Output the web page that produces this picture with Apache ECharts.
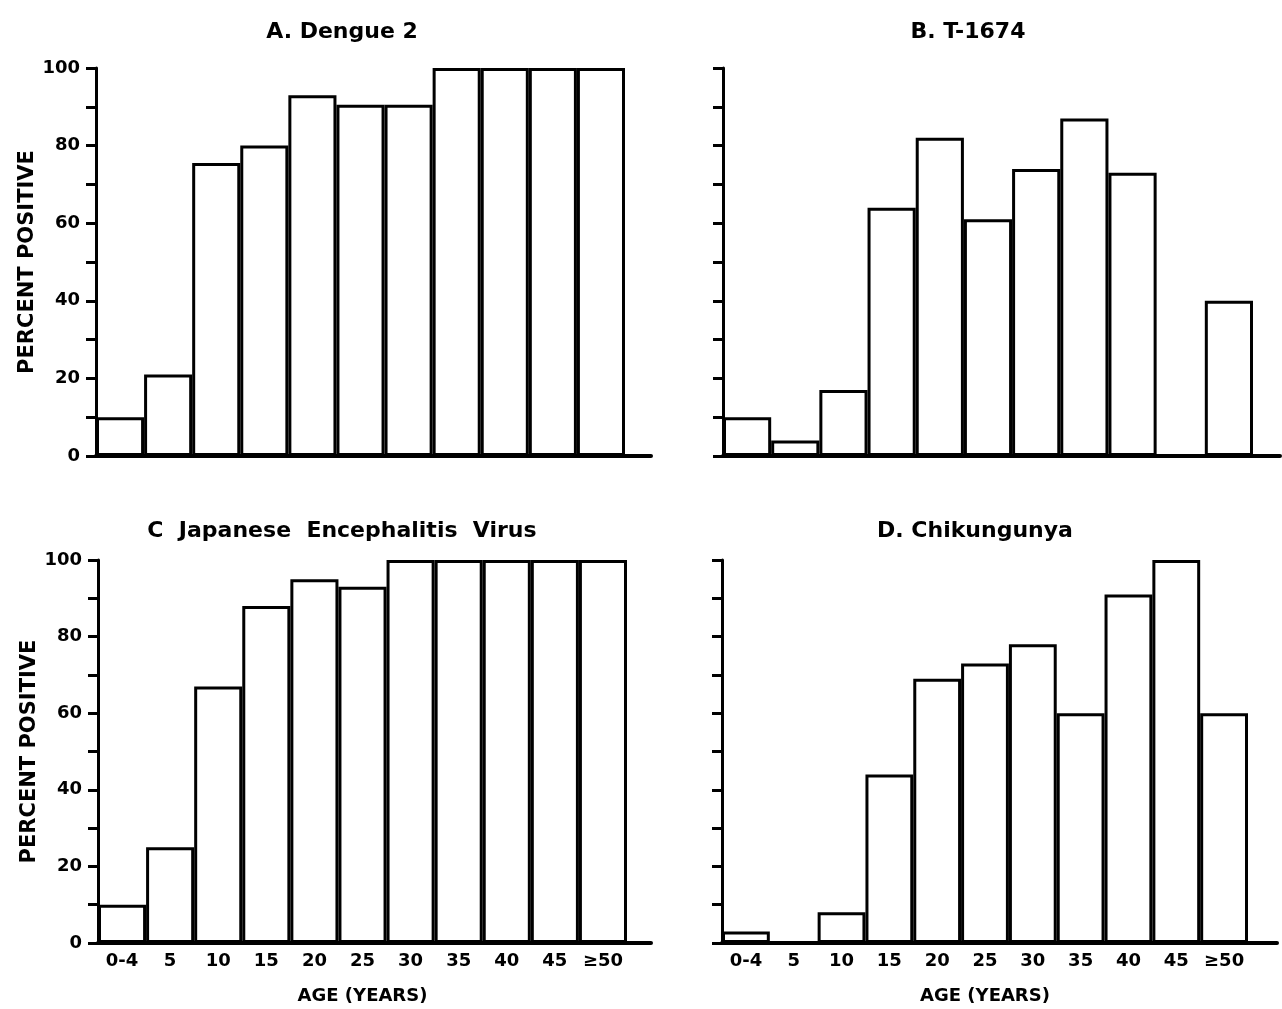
<!DOCTYPE html>
<html>
<head>
<meta charset="utf-8">
<script src="https://cdn.jsdelivr.net/npm/echarts@6/dist/echarts.min.js"></script>
<style>
html,body{margin:0;padding:0;background:#fff;}
#chart{width:1282px;height:1009px;}
</style>
</head>
<body>
<div id="chart"></div>
<script>
// ---- data ----
const ageCategories = ['0-4', '5', '10', '15', '20', '25', '30', '35', '40', '45', '≥50'];
const dengue2 = [10, 21, 75.5, 80, 93, 90.5, 90.5, 100, 100, 100, 100];
const t1674 = [10, 4, 17, 64, 82, 61, 74, 87, 73, 0, 40];
const jev = [10, 25, 67, 88, 95, 93, 100, 100, 100, 100, 100];
const chikungunya = [3, 0, 8, 44, 69, 73, 78, 60, 91, 100, 60];
const panelTitles = ['A. Dengue 2', 'B. T-1674', 'C  Japanese  Encephalitis  Virus', 'D. Chikungunya'];
const yTicks = [0, 20, 40, 60, 80, 100];
const yAxisName = 'PERCENT POSITIVE';
const xAxisName = 'AGE (YEARS)';

const FONT = '"DejaVu Sans", sans-serif';
const panels = [
  {data: dengue2, title: panelTitles[0], left: 96, top: 68, width: 529, height: 388, lineWidth: 555, yLabels: true, xLabels: false, tx: 337, ty: 16},
  {data: t1674, title: panelTitles[1], left: 723, top: 68, width: 530, height: 388, lineWidth: 557, yLabels: false, xLabels: false, tx: 963, ty: 16},
  {data: jev, title: panelTitles[2], left: 98, top: 560, width: 529, height: 383, lineWidth: 553, yLabels: true, xLabels: true, tx: 337, ty: 515},
  {data: chikungunya, title: panelTitles[3], left: 722, top: 560, width: 526, height: 383, lineWidth: 555, yLabels: false, xLabels: true, tx: 970, ty: 515}
];

const grid = [], xAxis = [], yAxis = [], series = [], title = [];
panels.forEach((p, i) => {
  const gi = grid.length;
  grid.push({left: p.left, top: p.top, width: p.width, height: p.height, containLabel: false, outerBoundsMode: 'none'});
  xAxis.push({
    type: 'category', gridIndex: gi, data: ageCategories,
    axisLine: {show: false}, axisTick: {show: false},
    axisLabel: {show: p.xLabels, color: '#000', fontFamily: FONT, fontWeight: 'bold', fontSize: 18, margin: 9, interval: 0},
    name: p.xLabels ? xAxisName : '', nameLocation: 'middle', nameGap: 44,
    nameTextStyle: {color: '#000', fontFamily: FONT, fontWeight: 'bold', fontSize: 18}
  });
  yAxis.push({
    type: 'value', gridIndex: gi, min: 0, max: 100, interval: 10,
    axisLine: {show: true, lineStyle: {color: '#000', width: 3}},
    axisTick: {show: true, length: 10, inside: false, lineStyle: {color: '#000', width: 3}},
    splitLine: {show: false},
    axisLabel: {show: p.yLabels, color: '#000', fontFamily: FONT, fontWeight: 'bold', fontSize: 18, margin: 16,
      formatter: v => yTicks.indexOf(v) >= 0 ? String(v) : ''},
    name: p.yLabels ? yAxisName : '', nameLocation: 'middle', nameGap: 58, nameRotate: 90,
    nameTextStyle: {color: '#000', fontFamily: FONT, fontWeight: 'bold', fontSize: 21}
  });
  series.push({
    type: 'bar', xAxisIndex: gi, yAxisIndex: gi, data: p.data,
    barCategoryGap: '0%', barGap: '0%',
    itemStyle: {color: '#fff', borderColor: '#000', borderWidth: 3},
    silent: true, animation: false
  });
  // extended baseline
  const gl = grid.length;
  grid.push({left: p.left, top: p.top, width: p.lineWidth, height: p.height, containLabel: false, outerBoundsMode: 'none'});
  xAxis.push({type: 'value', gridIndex: gl, min: 0, max: 1, axisLine: {show: true, onZero: false, lineStyle: {color: '#000', width: 4}},
    axisTick: {show: false}, axisLabel: {show: false}, splitLine: {show: false}});
  yAxis.push({type: 'value', gridIndex: gl, min: 0, max: 1, show: false});
  title.push({text: p.title, left: p.tx, top: p.ty, textAlign: 'center',
    textStyle: {color: '#000', fontFamily: FONT, fontWeight: 'bold', fontSize: 22}});
});

const chart = echarts.init(document.getElementById('chart'), null, {renderer: 'canvas'});
chart.setOption({backgroundColor: '#fff', animation: false, title, grid, xAxis, yAxis, series});
</script>
</body>
</html>
